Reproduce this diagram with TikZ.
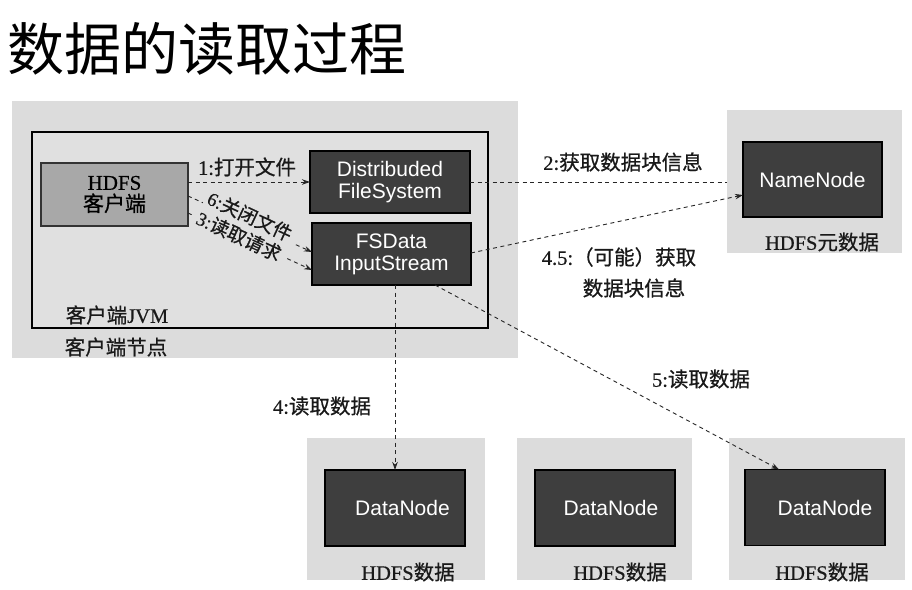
\documentclass[tikz,border=0pt]{standalone}
\usepackage{fontspec}
\setmainfont{Liberation Serif}[FakeBold=0.5]
\newfontfamily\cjk{Noto Sans CJK SC}[FakeBold=0.7]
\newfontfamily\cjktitle{Noto Sans CJK SC}
\newfontfamily\sansf{Liberation Sans}
\usetikzlibrary{arrows.meta,calc}
\newcommand\zhtxt[1]{{\cjk #1}}
\definecolor{bggray}{HTML}{DCDCDC}
\definecolor{jvmgray}{HTML}{E0E0E0}
\definecolor{clientgray}{HTML}{A8A8A8}
\definecolor{boxdark}{HTML}{3E3E3E}
\begin{document}
\begin{tikzpicture}[x=1pt,y=-1pt,
  region/.style={fill=bggray, draw=none, inner sep=0, outer sep=0},
  darkbox/.style={draw=black, line width=1.4pt, fill=boxdark, text=white,
    font=\sansf\fontsize{21}{22}\selectfont, align=center, inner sep=0, outer sep=0},
  clientbox/.style={draw=black!80, line width=1.4pt, fill=clientgray, text=black,
    font=\fontsize{21}{22.5}\selectfont, align=center, inner sep=0, outer sep=0},
  lbl/.style={font=\fontsize{20.5}{30}\selectfont, inner sep=0, text=black!90, align=center},
  slbl/.style={lbl, font=\fontsize{19}{21}\selectfont, rotate=-25},
  dsh/.style={draw=black!85, line width=0.9pt, dash pattern=on 4pt off 3.5pt},
  arr/.style={dsh, -{Stealth[length=8pt,width=5.5pt]}}
]
\useasboundingbox (0,0) rectangle (912,589);
\fill[white] (0,0) rectangle (912,589);

% title
\node[anchor=west, inner sep=0, font=\cjktitle\fontsize{57}{60}\selectfont] (title) at (7,49) {数据的读取过程};

% client node region
\node[region, minimum width=506pt, minimum height=257pt] (client) at (265,229.5) {};
\node[draw=black, line width=1.6pt, fill=jvmgray, inner sep=0, outer sep=0,
      minimum width=456pt, minimum height=196pt] (jvm) at (260,230) {};
\node[lbl] (jvmlbl) at (117,315) {\zhtxt{客户端}JVM};
\node[lbl] (clientlbl) at (116,347) {\zhtxt{客户端节点}};

\node[clientbox, minimum width=147pt, minimum height=63pt] (hdfs) at (114.5,194.5) {HDFS\\[-1pt]\zhtxt{客户端}};
\node[darkbox, minimum width=160pt, minimum height=62pt] (dfs) at (390,182) {Distribuded\\FileSystem};
\node[darkbox, minimum width=159pt, minimum height=62pt] (fsd) at (391.5,254) {FSData\\InputStream};

% namenode region
\node[region, minimum width=175pt, minimum height=143pt] (nnbg) at (814.5,181.5) {};
\node[darkbox, minimum width=139pt, minimum height=75pt] (nn) at (812.5,179.5) {NameNode};
\node[lbl] (nnlbl) at (822,242) {HDFS\zhtxt{元数据}};

% datanode regions
\node[region, minimum width=178pt, minimum height=142pt] (dnbg1) at (396,509) {};
\node[region, minimum width=175pt, minimum height=142pt] (dnbg2) at (604.5,509) {};
\node[region, minimum width=176pt, minimum height=142pt] (dnbg3) at (817,509) {};
\node[darkbox, minimum width=140pt, minimum height=76pt] (dn1) at (395,508) {\hspace*{15pt}DataNode};
\node[darkbox, minimum width=140pt, minimum height=76pt] (dn2) at (605,508) {\hspace*{12pt}DataNode};
\node[darkbox, minimum width=140pt, minimum height=76pt] (dn3) at (815,507.5) {\hspace*{20pt}DataNode};
\node[lbl] (dnlbl1) at (408,572) {HDFS\zhtxt{数据}};
\node[lbl] (dnlbl2) at (620,572) {HDFS\zhtxt{数据}};
\node[lbl] (dnlbl3) at (822,572) {HDFS\zhtxt{数据}};

% connectors
\draw[arr] (hdfs.east |- dfs.west) -- (dfs.west);
\node[lbl] (l1) at (247,167) {1:\zhtxt{打开文件}};

\coordinate (s6) at ([yshift=-1.5pt]hdfs.east);
\coordinate (e6) at ([yshift=2pt]fsd.west);
\coordinate (s3) at ([yshift=-18.5pt]hdfs.east);
\coordinate (e3) at ([yshift=-16pt]fsd.west);
\draw[dsh] (s6) -- ($(s6)!0.12!(e6)$);
\draw[arr] ($(s6)!0.87!(e6)$) -- (e6);
\draw[dsh] (s3) -- ($(s3)!0.05!(e3)$);
\draw[arr] ($(s3)!0.80!(e3)$) -- (e3);
\node[slbl] (l6) at (250,216) {6:\zhtxt{关闭文件}};
\node[slbl] (l3) at (239,236) {3:\zhtxt{读取请求}};

\draw[dsh] (dfs.east) -- (dfs.east -| nnbg.west);
\node[lbl] (l2) at (623,162) {2:\zhtxt{获取数据块信息}};

\draw[arr] ([yshift=1pt]fsd.east) -- ([yshift=-15.5pt]nn.west);
\node[lbl] (l45a) at (619,257) {4.5:\zhtxt{（可能）获取}};
\node[lbl] (l45b) at (634,288) {\zhtxt{数据块信息}};

\draw[arr] (fsd.south -| dn1.north) -- (dn1.north);
\node[lbl] (l4) at (322,406) {4:\zhtxt{读取数据}};

\draw[arr] ([xshift=-36pt]fsd.south east) -- ([xshift=-36pt]dn3.north);
\node[lbl] (l5) at (701,379) {5:\zhtxt{读取数据}};
\end{tikzpicture}
\end{document}
